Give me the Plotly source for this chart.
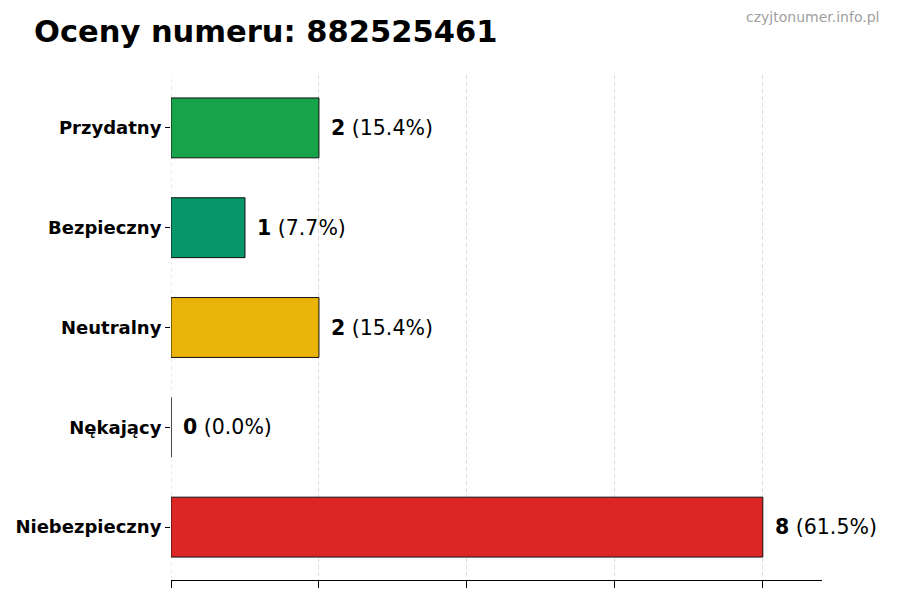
import plotly.graph_objects as go

# ratings for the phone number
categories = ['Przydatny', 'Bezpieczny', 'Neutralny', 'Nękający', 'Niebezpieczny']
counts = [2, 1, 2, 0, 8]
colors = ['#16a34a', '#059669', '#eab308', '#f97316', '#dc2626']

total = sum(counts)
percents = [100.0 * c / total for c in counts]

FONT = 'DejaVu Sans'
# page body has an 8px margin, so the figure is a bit smaller and shifted
W, H = 892, 592
L, R, T, B = 163, 78, 67, 20

bars = go.Bar(
    y=categories,
    x=counts,
    orientation='h',
    width=0.6,
    marker=dict(color=colors, line=dict(color='#111111', width=1)),
    hoverinfo='skip',
)

annotations = []
for cat, cnt, pct in zip(categories, counts, percents):
    annotations.append(dict(
        x=cnt, y=cat, xref='x', yref='y',
        text='<b>%d</b> (%.1f%%)' % (cnt, pct),
        showarrow=False, xanchor='left', yanchor='middle', xshift=10,
        font=dict(family=FONT, size=20.5, color='#000000'),
    ))

# watermark, positioned in pixels
annotations.append(dict(
    x=(873 - L) / (W - L - R), y=(H - B - 9) / (H - T - B),
    xref='paper', yref='paper', text='czyjtonumer.info.pl',
    showarrow=False, xanchor='right', yanchor='middle',
    font=dict(family=FONT, size=14, color='#a0a0a0'),
))

layout = go.Layout(
    width=W, height=H,
    margin=dict(l=L, r=R, t=T, b=B, autoexpand=False),
    paper_bgcolor='white', plot_bgcolor='white',
    showlegend=False,
    title=dict(text='<b>Oceny numeru: 882525461</b>', x=26 / W, xanchor='left',
               y=1 - 23 / H, yanchor='middle',
               font=dict(family=FONT, size=30.5, color='#000000')),
    xaxis=dict(
        range=[0, 8.8], tickvals=[0, 2, 4, 6, 8], showticklabels=False,
        ticks='outside', ticklen=7, tickcolor='#000000',
        showline=True, linecolor='#000000', linewidth=1.2,
        showgrid=True, gridcolor='#dcdcdc', griddash='4px,3px', gridwidth=1,
        zeroline=False, fixedrange=True, automargin=False,
    ),
    yaxis=dict(
        range=[4.53, -0.53], ticks='outside', ticklen=5, tickcolor='#000000',
        tickfont=dict(family=FONT, size=18, color='#000000'),
        tickvals=categories, ticktext=['<b>%s</b>' % c for c in categories],
        showline=False, showgrid=False, zeroline=False, automargin=False,
        categoryorder='array', categoryarray=categories,
    ),
    annotations=annotations,
    shapes=[dict(type='line', xref='x', yref='paper', x0=0, x1=0, y0=0, y1=1,
                 line=dict(color='#dcdcdc', width=1, dash='4px,3px'), layer='below')],
)

fig = go.Figure(data=[bars], layout=layout)
fig.write_html('out.html')
